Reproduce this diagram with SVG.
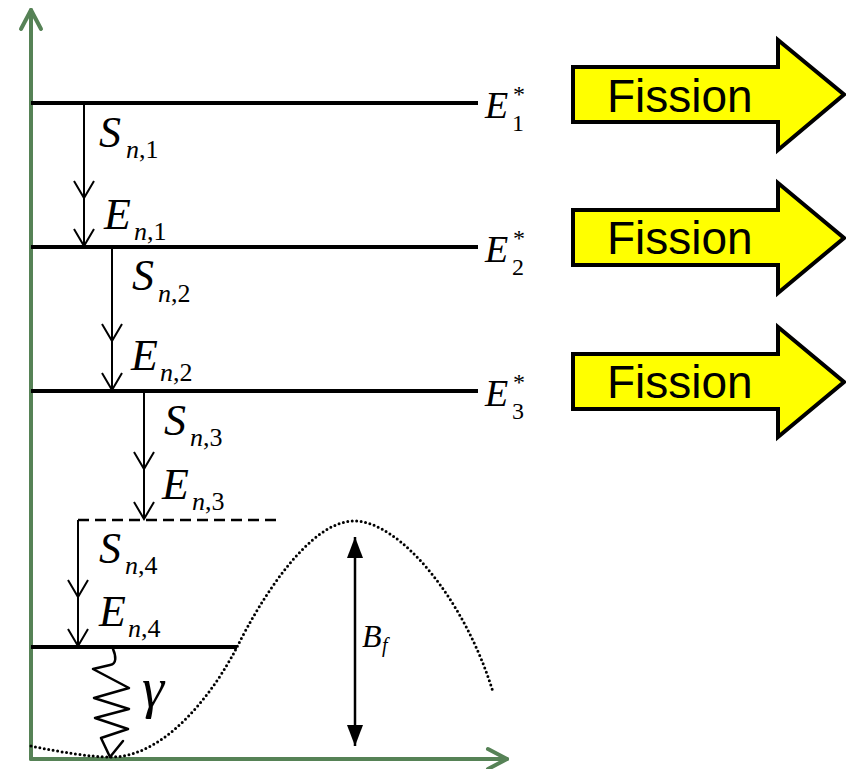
<svg xmlns="http://www.w3.org/2000/svg" width="846" height="769" viewBox="0 0 846 769">
<style>
.axis{stroke:#568256;stroke-width:4;fill:none;stroke-linecap:round;stroke-linejoin:round}
.lvl{stroke:#000;stroke-width:4;fill:none}
.tr{stroke:#000;stroke-width:2;fill:none}
.mi{font-family:"Liberation Serif","Times New Roman",serif;font-style:italic;fill:#000}
.up{font-family:"Liberation Serif","Times New Roman",serif;font-style:normal;fill:#000}
.big{font-size:44px}
.sub{font-size:26px}
.es{font-size:38px}
.esub{font-size:24px}
.fis{fill:#ffff00;stroke:#000;stroke-width:4;stroke-linejoin:miter}
.fist{font-family:"Liberation Sans",Arial,sans-serif;font-size:46px;fill:#000}
</style>
<defs>
<marker id="vh" viewBox="-20 -12 24 24" markerWidth="24" markerHeight="24" refX="0" refY="0" orient="auto" markerUnits="userSpaceOnUse">
<path d="M-17,-10 L0,0 L-17,10" fill="none" stroke="#000" stroke-width="2"/>
</marker>
<marker id="fh" viewBox="-23 -10 25 20" markerWidth="25" markerHeight="20" refX="0" refY="0" orient="auto-start-reverse" markerUnits="userSpaceOnUse">
<path d="M-21,-8 L0,0 L-21,8 Z" fill="#000"/>
</marker>
<marker id="gh" viewBox="-24 -14 28 28" markerWidth="28" markerHeight="28" refX="0" refY="0" orient="auto" markerUnits="userSpaceOnUse">
<path d="M-19,-10 L0,0 L-19,10" fill="none" stroke="#568256" stroke-width="4" stroke-linecap="round" stroke-linejoin="round"/>
</marker>
</defs>

<g id="axes">
<path class="axis" d="M31,759 L31,10" marker-end="url(#gh)"/>
<path class="axis" d="M31,759 L507,759" marker-end="url(#gh)"/>
</g>

<g id="barrier">
<path d="M31,746 C60,752 90,757 110,757 C165,758 214,692 237,647 C262,597 310,521 354,521 C400,521 465,600 493,692" fill="none" stroke="#000" stroke-width="3" stroke-dasharray="0 4.5" stroke-linecap="round"/>
</g>

<g id="levels">
<g id="level1"><line class="lvl" x1="31" y1="103" x2="478" y2="103"/>
<text class="mi es" x="485" y="118">E</text><text class="up esub" x="512" y="131">1</text><text class="up esub" x="513" y="102">*</text></g>
<g id="level2"><line class="lvl" x1="31" y1="247" x2="478" y2="247"/>
<text class="mi es" x="485" y="262">E</text><text class="up esub" x="512" y="275">2</text><text class="up esub" x="513" y="246">*</text></g>
<g id="level3"><line class="lvl" x1="31" y1="391" x2="478" y2="391"/>
<text class="mi es" x="485" y="406">E</text><text class="up esub" x="512" y="419">3</text><text class="up esub" x="513" y="390">*</text></g>
<g id="level-dashed"><line x1="78" y1="520" x2="278" y2="520" stroke="#000" stroke-width="2.5" stroke-dasharray="11 6"/></g>
<g id="level4"><line class="lvl" x1="31" y1="647" x2="237" y2="647"/></g>
</g>

<g id="connectors">
<path class="tr" d="M84,105 L84,198 L84,246" marker-mid="url(#vh)" marker-end="url(#vh)"/>
<path class="tr" d="M112,249 L112,341 L112,390" marker-mid="url(#vh)" marker-end="url(#vh)"/>
<path class="tr" d="M144,393 L144,469 L144,519" marker-mid="url(#vh)" marker-end="url(#vh)"/>
<path class="tr" d="M78,520 L78,597 L78,646" marker-mid="url(#vh)" marker-end="url(#vh)"/>
<path d="M355,537 L355,746" stroke="#000" stroke-width="2.5" fill="none" marker-start="url(#fh)" marker-end="url(#fh)"/>
</g>

<g id="transition-labels">
<text class="mi big" x="99" y="147">S</text><text class="sub" x="126" y="158"><tspan class="mi">n</tspan><tspan class="up">,1</tspan></text>
<text class="mi big" x="104" y="229">E</text><text class="sub" x="134" y="240"><tspan class="mi">n</tspan><tspan class="up">,1</tspan></text>
<text class="mi big" x="132" y="290">S</text><text class="sub" x="158" y="302"><tspan class="mi">n</tspan><tspan class="up">,2</tspan></text>
<text class="mi big" x="131" y="370">E</text><text class="sub" x="160" y="381"><tspan class="mi">n</tspan><tspan class="up">,2</tspan></text>
<text class="mi big" x="164" y="435">S</text><text class="sub" x="190" y="446"><tspan class="mi">n</tspan><tspan class="up">,3</tspan></text>
<text class="mi big" x="162" y="499">E</text><text class="sub" x="192" y="510"><tspan class="mi">n</tspan><tspan class="up">,3</tspan></text>
<text class="mi big" x="99" y="563">S</text><text class="sub" x="125" y="574"><tspan class="mi">n</tspan><tspan class="up">,4</tspan></text>
<text class="mi big" x="99" y="626">E</text><text class="sub" x="128" y="637"><tspan class="mi">n</tspan><tspan class="up">,4</tspan></text>
<text class="mi" x="362" y="647" font-size="32" fill="#222">B</text><text class="mi" x="382" y="652" font-size="20" fill="#222">f</text>
</g>

<g id="gamma">
<path d="M113,649 C116,656 117,664 110,665 L93,669 L129,688 L94,698 L129,709 L95,718 L128,729 L101,738 L110,757 L123,741" fill="none" stroke="#000" stroke-width="2.5" stroke-linejoin="round" stroke-linecap="round"/>
<text class="mi" x="142" y="707" font-size="56">γ</text>
</g>

<g id="fission1">
<path class="fis" d="M573,67 L778,67 L778,40 L844,94.5 L778,150 L778,122 L573,122 Z"/>
<text class="fist" x="607" y="112">Fission</text>
</g>
<g id="fission2">
<path class="fis" d="M573,210 L778,210 L778,183 L844,238 L778,293 L778,265 L573,265 Z"/>
<text class="fist" x="607" y="254">Fission</text>
</g>
<g id="fission3">
<path class="fis" d="M573,354 L778,354 L778,327 L844,382 L778,437 L778,409 L573,409 Z"/>
<text class="fist" x="607" y="398">Fission</text>
</g>
</svg>
